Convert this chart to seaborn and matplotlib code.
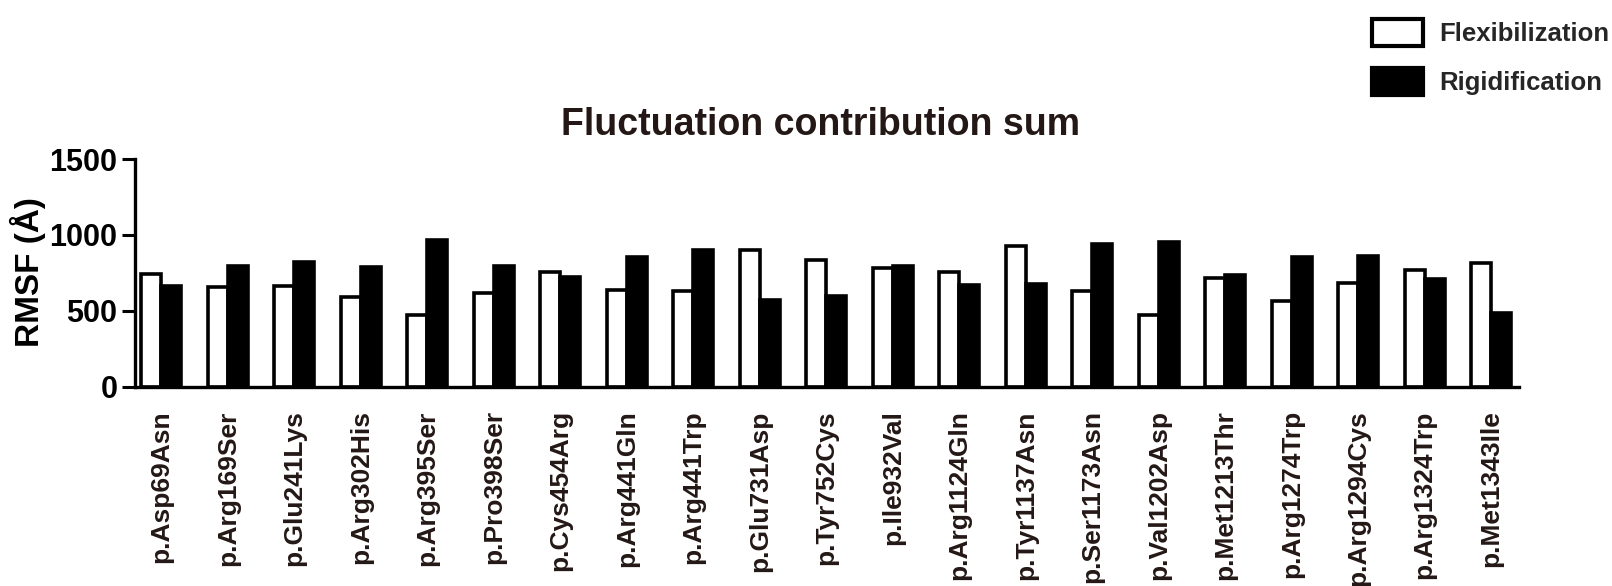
import matplotlib
matplotlib.use("Agg")
import matplotlib.pyplot as plt
from matplotlib.patches import Patch
import pandas as pd
import seaborn as sns

# Missense variants and their summed RMSF contributions
mutations = [
    "p.Asp69Asn", "p.Arg169Ser", "p.Glu241Lys", "p.Arg302His", "p.Arg395Ser",
    "p.Pro398Ser", "p.Cys454Arg", "p.Arg441Gln", "p.Arg441Trp", "p.Glu731Asp",
    "p.Tyr752Cys", "p.Ile932Val", "p.Arg1124Gln", "p.Tyr1137Asn", "p.Ser1173Asn",
    "p.Val1202Asp", "p.Met1213Thr", "p.Arg1274Trp", "p.Arg1294Cys", "p.Arg1324Trp",
    "p.Met1343Ile",
]
flexibilization = [744, 658, 664, 590, 473, 614, 754, 634, 629, 902, 837, 782,
                   758, 929, 631, 474, 718, 564, 683, 766, 817]
rigidification = [664, 798, 822, 789, 965, 798, 723, 851, 900, 568, 598, 795,
                  672, 679, 942, 951, 736, 854, 861, 711, 485]
series_names = ["Flexibilization", "Rigidification"]
y_ticks = [0, 500, 1000, 1500]

df = pd.DataFrame({
    "mutation": mutations * 2,
    "kind": [series_names[0]] * len(mutations) + [series_names[1]] * len(mutations),
    "rmsf": flexibilization + rigidification,
})

sns.set_theme(style="ticks")
plt.rcParams["font.family"] = ["Liberation Sans", "DejaVu Sans"]
plt.rcParams["font.weight"] = "bold"

text_dark = "#231815"
fills = {series_names[0]: "white", series_names[1]: "black"}

fig = plt.figure(figsize=(16.12, 5.86), dpi=100)
ax = fig.add_axes([0.0837, 0.3404, 0.8587, 0.3882])

sns.barplot(
    data=df, x="mutation", y="rmsf", hue="kind", order=mutations,
    hue_order=series_names, palette=fills, saturation=1, width=0.6, gap=0,
    edgecolor="black", linewidth=2.6, legend=False, ax=ax,
)

ax.set_xlim(-0.397, 20.42)
ax.set_ylim(0, 1500)
ax.set_yticks(y_ticks)
ax.set_yticklabels([str(t) for t in y_ticks], fontsize=22, fontweight="bold",
                   color="black")
ax.set_xticks(range(len(mutations)))
ax.set_xticklabels(mutations, rotation=90, fontsize=19, fontweight="bold",
                   color=text_dark)
ax.tick_params(axis="x", length=0, pad=17)
ax.tick_params(axis="y", length=9.5, width=2.2, pad=3, color="black")

for side in ("top", "right"):
    ax.spines[side].set_visible(False)
for side in ("left", "bottom"):
    ax.spines[side].set_linewidth(2.4)
    ax.spines[side].set_color("black")

ax.set_xlabel("")
ax.set_ylabel("")
fig.text(28 / 1612, 1 - 272 / 586, "RMSF (Å)", rotation=90, ha="center",
         va="center", fontsize=24, fontweight="bold", color="black")
ax.set_title("Fluctuation contribution sum", fontsize=27, fontweight="bold",
             color=text_dark, pad=17, x=0.495)

handles = [
    Patch(facecolor="white", edgecolor="black", linewidth=3),
    Patch(facecolor="black", edgecolor="black", linewidth=3),
]
fig.legend(
    handles, series_names, loc="upper left",
    bbox_to_anchor=(1372 / 1612, 1 - 19 / 586), frameon=False,
    borderpad=0, borderaxespad=0, handlelength=2.0, handleheight=1.25,
    handletextpad=0.6, labelspacing=0.85,
    prop={"size": 18.5, "weight": "bold"},
)

fig.savefig("out.png", dpi=100, facecolor="white")
